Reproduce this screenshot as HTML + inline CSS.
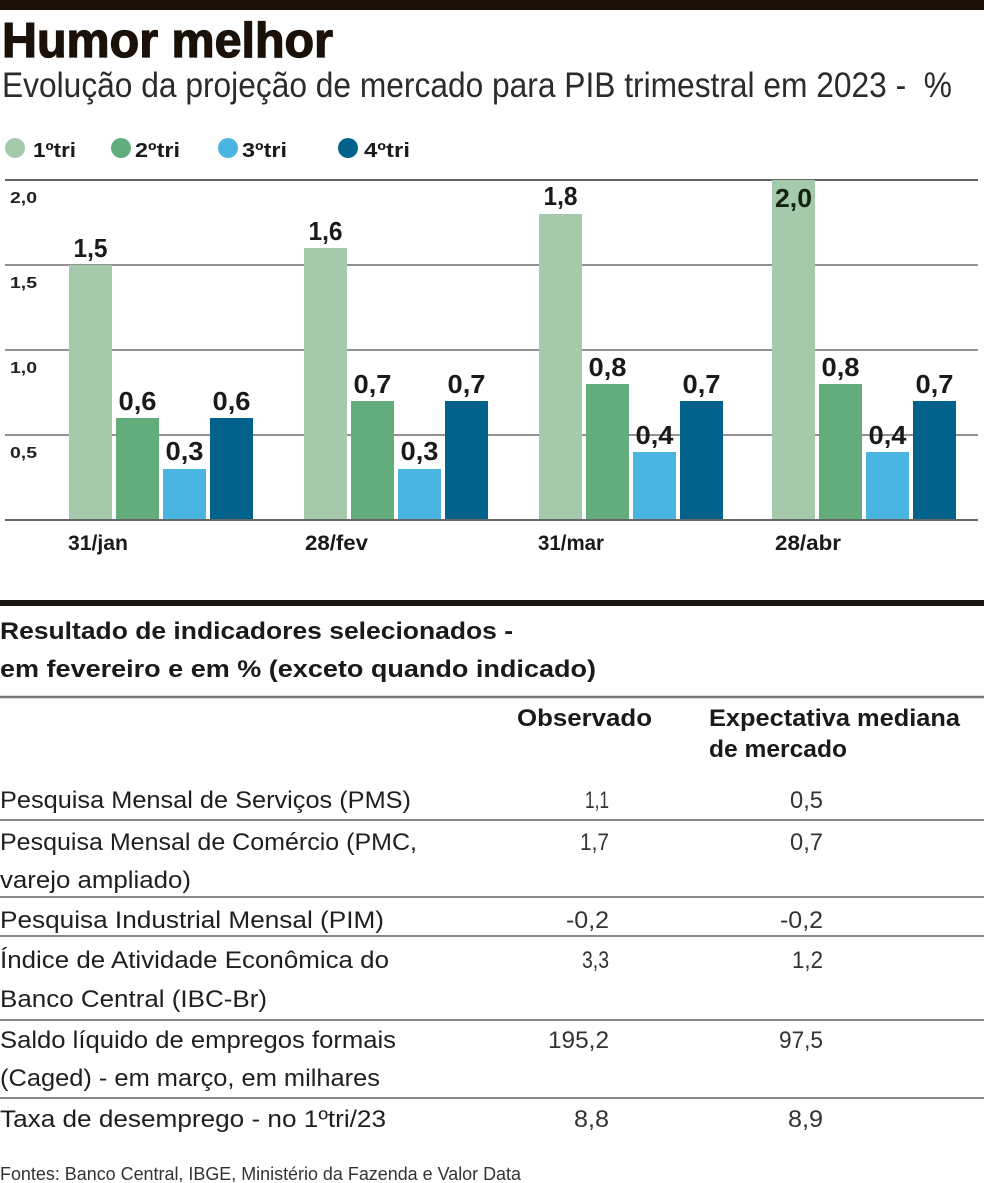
<!DOCTYPE html>
<html>
<head>
<meta charset="utf-8">
<style>
html,body{margin:0;padding:0;background:#fff;}
svg{display:block;}
text{font-family:"Liberation Sans",sans-serif;}
</style>
</head>
<body>
<svg width="984" height="1183" viewBox="0 0 984 1183" xmlns="http://www.w3.org/2000/svg">
<rect x="0" y="0" width="984" height="1183" fill="#ffffff"/>
<!-- top bar -->
<rect x="0" y="0" width="984" height="10" fill="#1a1208"/>

<!-- title -->
<text x="2" y="57" font-size="49" font-weight="bold" fill="#1a1108" stroke="#1a1108" stroke-width="1.3" textLength="331" lengthAdjust="spacingAndGlyphs">Humor melhor</text>
<text x="2" y="97" font-size="35" fill="#2b2b2b" textLength="950" lengthAdjust="spacingAndGlyphs">Evolução da projeção de mercado para PIB trimestral em 2023 -&#160; %</text>

<!-- legend -->
<circle cx="15" cy="148" r="10" fill="#a4c9ab"/>
<text x="33" y="157" font-size="20" font-weight="bold" fill="#1a1a1a" textLength="43" lengthAdjust="spacingAndGlyphs">1ºtri</text>
<circle cx="121" cy="148" r="10" fill="#63ad7c"/>
<text x="135" y="157" font-size="20" font-weight="bold" fill="#1a1a1a" textLength="45" lengthAdjust="spacingAndGlyphs">2ºtri</text>
<circle cx="228" cy="148" r="10" fill="#4ab5e0"/>
<text x="242" y="157" font-size="20" font-weight="bold" fill="#1a1a1a" textLength="45" lengthAdjust="spacingAndGlyphs">3ºtri</text>
<circle cx="348" cy="148" r="10" fill="#03628b"/>
<text x="364" y="157" font-size="20" font-weight="bold" fill="#1a1a1a" textLength="46" lengthAdjust="spacingAndGlyphs">4ºtri</text>

<!-- grid -->
<line x1="5" y1="180" x2="978" y2="180" stroke="#333" stroke-width="1.5"/>
<line x1="5" y1="265" x2="978" y2="265" stroke="#6f6f6f" stroke-width="1.5"/>
<line x1="5" y1="350" x2="978" y2="350" stroke="#6f6f6f" stroke-width="1.5"/>
<line x1="5" y1="435" x2="978" y2="435" stroke="#6f6f6f" stroke-width="1.5"/>

<!-- y labels -->
<text x="10" y="203" font-size="16" font-weight="bold" fill="#222" textLength="27" lengthAdjust="spacingAndGlyphs">2,0</text>
<text x="10" y="288" font-size="16" font-weight="bold" fill="#222" textLength="27" lengthAdjust="spacingAndGlyphs">1,5</text>
<text x="10" y="373" font-size="16" font-weight="bold" fill="#222" textLength="27" lengthAdjust="spacingAndGlyphs">1,0</text>
<text x="10" y="458" font-size="16" font-weight="bold" fill="#222" textLength="27" lengthAdjust="spacingAndGlyphs">0,5</text>

<!-- bars group 1 -->
<rect x="69" y="265" width="43" height="255" fill="#a4c9ab"/>
<rect x="116" y="418" width="43" height="102" fill="#63ad7c"/>
<rect x="163" y="469" width="43" height="51" fill="#4ab5e0"/>
<rect x="210" y="418" width="43" height="102" fill="#03628b"/>
<!-- group 2 -->
<rect x="304" y="248" width="43" height="272" fill="#a4c9ab"/>
<rect x="351" y="401" width="43" height="119" fill="#63ad7c"/>
<rect x="398" y="469" width="43" height="51" fill="#4ab5e0"/>
<rect x="445" y="401" width="43" height="119" fill="#03628b"/>
<!-- group 3 -->
<rect x="539" y="214" width="43" height="306" fill="#a4c9ab"/>
<rect x="586" y="384" width="43" height="136" fill="#63ad7c"/>
<rect x="633" y="452" width="43" height="68" fill="#4ab5e0"/>
<rect x="680" y="401" width="43" height="119" fill="#03628b"/>
<!-- group 4 -->
<rect x="772" y="180" width="43" height="340" fill="#a4c9ab"/>
<rect x="819" y="384" width="43" height="136" fill="#63ad7c"/>
<rect x="866" y="452" width="43" height="68" fill="#4ab5e0"/>
<rect x="913" y="401" width="43" height="119" fill="#03628b"/>

<!-- baseline -->
<line x1="5" y1="520" x2="978" y2="520" stroke="#666" stroke-width="2"/>

<!-- value labels -->
<g font-size="26" font-weight="bold" fill="#1a1a1a" text-anchor="middle">
<text x="90.5" y="257" textLength="34" lengthAdjust="spacingAndGlyphs">1,5</text>
<text x="137.5" y="410" textLength="38" lengthAdjust="spacingAndGlyphs">0,6</text>
<text x="184.5" y="460" textLength="38" lengthAdjust="spacingAndGlyphs">0,3</text>
<text x="231.5" y="410" textLength="38" lengthAdjust="spacingAndGlyphs">0,6</text>

<text x="325.5" y="240" textLength="34" lengthAdjust="spacingAndGlyphs">1,6</text>
<text x="372.5" y="393" textLength="38" lengthAdjust="spacingAndGlyphs">0,7</text>
<text x="419.5" y="460" textLength="38" lengthAdjust="spacingAndGlyphs">0,3</text>
<text x="466.5" y="393" textLength="38" lengthAdjust="spacingAndGlyphs">0,7</text>

<text x="560.5" y="205" textLength="34" lengthAdjust="spacingAndGlyphs">1,8</text>
<text x="607.5" y="376" textLength="38" lengthAdjust="spacingAndGlyphs">0,8</text>
<text x="654.5" y="444" textLength="38" lengthAdjust="spacingAndGlyphs">0,4</text>
<text x="701.5" y="393" textLength="38" lengthAdjust="spacingAndGlyphs">0,7</text>

<text x="793.5" y="207" textLength="37" lengthAdjust="spacingAndGlyphs" fill="#142214">2,0</text>
<text x="840.5" y="376" textLength="38" lengthAdjust="spacingAndGlyphs">0,8</text>
<text x="887.5" y="444" textLength="38" lengthAdjust="spacingAndGlyphs">0,4</text>
<text x="934.5" y="393" textLength="38" lengthAdjust="spacingAndGlyphs">0,7</text>
</g>

<!-- x labels -->
<g font-size="21" font-weight="bold" fill="#1a1a1a">
<text x="68" y="550" textLength="60" lengthAdjust="spacingAndGlyphs">31/jan</text>
<text x="305" y="550" textLength="63" lengthAdjust="spacingAndGlyphs">28/fev</text>
<text x="538" y="550" textLength="66" lengthAdjust="spacingAndGlyphs">31/mar</text>
<text x="775" y="550" textLength="66" lengthAdjust="spacingAndGlyphs">28/abr</text>
</g>

<!-- section 2 -->
<rect x="0" y="600" width="984" height="6" fill="#1a1612"/>
<text x="0" y="639" font-size="24.5" font-weight="bold" fill="#1a1a1a" textLength="513" lengthAdjust="spacingAndGlyphs">Resultado de indicadores selecionados -</text>
<text x="0" y="677" font-size="24.5" font-weight="bold" fill="#1a1a1a" textLength="596" lengthAdjust="spacingAndGlyphs">em fevereiro e em % (exceto quando indicado)</text>
<line x1="0" y1="697" x2="984" y2="697" stroke="#777" stroke-width="2.5"/>

<g font-size="24.5" font-weight="bold" fill="#1a1a1a">
<text x="517" y="726" textLength="135" lengthAdjust="spacingAndGlyphs">Observado</text>
<text x="709" y="726" textLength="251" lengthAdjust="spacingAndGlyphs">Expectativa mediana</text>
<text x="709" y="757" textLength="138" lengthAdjust="spacingAndGlyphs">de mercado</text>
</g>

<!-- row lines -->
<g stroke="#888" stroke-width="2">
<line x1="0" y1="820" x2="984" y2="820"/>
<line x1="0" y1="897" x2="984" y2="897"/>
<line x1="0" y1="936" x2="984" y2="936"/>
<line x1="0" y1="1020" x2="984" y2="1020"/>
<line x1="0" y1="1098" x2="984" y2="1098"/>
</g>

<!-- row labels -->
<g font-size="24.5" fill="#1f1f1f">
<text x="0" y="808" textLength="411" lengthAdjust="spacingAndGlyphs">Pesquisa Mensal de Serviços (PMS)</text>
<text x="0" y="850" textLength="417" lengthAdjust="spacingAndGlyphs">Pesquisa Mensal de Comércio (PMC,</text>
<text x="0" y="888" textLength="191" lengthAdjust="spacingAndGlyphs">varejo ampliado)</text>
<text x="0" y="928" textLength="384" lengthAdjust="spacingAndGlyphs">Pesquisa Industrial Mensal (PIM)</text>
<text x="0" y="968" textLength="389" lengthAdjust="spacingAndGlyphs">Índice de Atividade Econômica do</text>
<text x="0" y="1007" textLength="267" lengthAdjust="spacingAndGlyphs">Banco Central (IBC-Br)</text>
<text x="0" y="1048" textLength="396" lengthAdjust="spacingAndGlyphs">Saldo líquido de empregos formais</text>
<text x="0" y="1086" textLength="380" lengthAdjust="spacingAndGlyphs">(Caged) - em março, em milhares</text>
<text x="0" y="1127" textLength="386" lengthAdjust="spacingAndGlyphs">Taxa de desemprego - no 1ºtri/23</text>
</g>

<!-- values -->
<g font-size="24.5" fill="#333" text-anchor="end">
<text x="609" y="808" textLength="24" lengthAdjust="spacingAndGlyphs">1,1</text>
<text x="823" y="808" textLength="33" lengthAdjust="spacingAndGlyphs">0,5</text>
<text x="609" y="850" textLength="29" lengthAdjust="spacingAndGlyphs">1,7</text>
<text x="823" y="850" textLength="33" lengthAdjust="spacingAndGlyphs">0,7</text>
<text x="609" y="928" textLength="43" lengthAdjust="spacingAndGlyphs">-0,2</text>
<text x="823" y="928" textLength="43" lengthAdjust="spacingAndGlyphs">-0,2</text>
<text x="609" y="968" textLength="27" lengthAdjust="spacingAndGlyphs">3,3</text>
<text x="823" y="968" textLength="31" lengthAdjust="spacingAndGlyphs">1,2</text>
<text x="609" y="1048" textLength="61" lengthAdjust="spacingAndGlyphs">195,2</text>
<text x="823" y="1048" textLength="44" lengthAdjust="spacingAndGlyphs">97,5</text>
<text x="609" y="1127" textLength="35" lengthAdjust="spacingAndGlyphs">8,8</text>
<text x="823" y="1127" textLength="35" lengthAdjust="spacingAndGlyphs">8,9</text>
</g>

<text x="0" y="1180" font-size="18" fill="#333" textLength="521" lengthAdjust="spacingAndGlyphs">Fontes: Banco Central, IBGE, Ministério da Fazenda e Valor Data</text>
</svg>
</body>
</html>
